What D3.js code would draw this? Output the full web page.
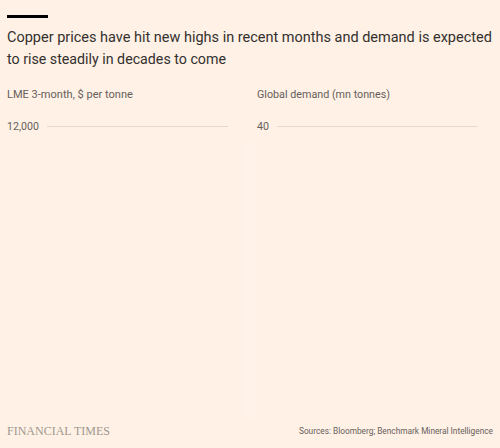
<html>
<head>
  <title>Copper prices and demand</title>
  <script src="https://d3js.org/d3.v7.min.js"></script>
  <style>
  body { margin: 0; background: #fff1e5; }
  svg { display: block; }
  </style>
</head>
<body>
  <script>

// what the picture shows: only the top gridline of each panel is drawn
var priceTicks = [12000];
var priceDomain = [0, 12000];
var demandTicks = [40];
var demandDomain = [0, 40];

var titleLines = ['Copper prices have hit new highs in recent months and demand is expected',
                  'to rise steadily in decades to come'];
var panelTitles = ['LME 3-month, $ per tonne', 'Global demand (mn tonnes)'];
var source = 'Sources: Bloomberg; Benchmark Mineral Intelligence';

var width = 500,
    height = 448;
var sans = 'Roboto, "Open Sans", sans-serif';

var svg = d3.select('body')
  .append('svg')
  .attr('width', width)
  .attr('height', height);

svg.append('rect')
  .attr('width', width)
  .attr('height', height)
  .attr('fill', '#fff1e5');

// shrink or grow a text's font so it takes the width seen in the reference
function fit(sel, w) {
  sel.each(function() {
    var size = parseFloat(this.getAttribute('font-size'));
    var len = this.getComputedTextLength();
    if (len > 0) this.setAttribute('font-size', (size * w / len).toFixed(2));
  });
}

// faint gutter between the two panels
svg.append('rect')
  .attr('x', 243).attr('y', 140)
  .attr('width', 14).attr('height', 278)
  .attr('fill', '#fff3e9');

svg.append('rect')
  .attr('x', 7).attr('y', 15)
  .attr('width', 41).attr('height', 3)
  .attr('fill', '#000');

var titleWidths = [485, 219];
svg.selectAll('.title')
  .data(titleLines)
  .enter()
  .append('text')
  .attr('class', 'title')
  .attr('x', 7)
  .attr('y', function(d, i) { return 42 + i * 22; })
  .attr('font-family', sans)
  .attr('font-size', 17)
  .attr('fill', '#33302e')
  .text(function(d) { return d; })
  .each(function(d, i) { fit(d3.select(this), titleWidths[i]); });

function panel(x0, x1, gap, ticks, domain, title, titleW, labelW, fmt) {
  var g = svg.append('g');

  g.append('text')
    .attr('x', x0)
    .attr('y', 98)
    .attr('font-family', sans)
    .attr('font-size', 12.5)
    .attr('fill', '#66605c')
    .text(title)
    .call(fit, titleW);

  var y = d3.scaleLinear()
    .domain(domain)
    .range([410, 126]);

  var axis = d3.axisLeft(y)
    .tickValues(ticks)
    .tickFormat(fmt)
    .tickSize(-(x1 - x0 - gap));

  var ax = g.append('g')
    .attr('transform', 'translate(' + (x0 + gap) + ',0)')
    .call(axis);

  ax.select('.domain').remove();
  ax.selectAll('line')
    .attr('stroke', '#e6d9ce')
    .attr('stroke-width', 1.2);
  ax.selectAll('text')
    .attr('x', -gap)
    .attr('text-anchor', 'start')
    .attr('font-size', 11)
    .attr('font-family', sans)
    .attr('fill', '#66605c')
    .call(fit, labelW);
}

panel(7, 228, 40, priceTicks, priceDomain, panelTitles[0], 126, 32, d3.format(','));
panel(257, 478, 20, demandTicks, demandDomain, panelTitles[1], 133, 12, d3.format('d'));

svg.append('text')
  .attr('x', 7)
  .attr('y', 435)
  .attr('font-family', '"Liberation Serif", "DejaVu Serif", serif')
  .attr('font-size', 13)
  .attr('fill', '#a09890')
  .text('FINANCIAL TIMES')
  .call(fit, 103);

svg.append('text')
  .attr('x', 493)
  .attr('y', 434)
  .attr('text-anchor', 'end')
  .attr('font-family', sans)
  .attr('font-size', 10.4)
  .attr('fill', '#66605c')
  .text(source)
  .call(fit, 194);

  </script>
</body>
</html>
